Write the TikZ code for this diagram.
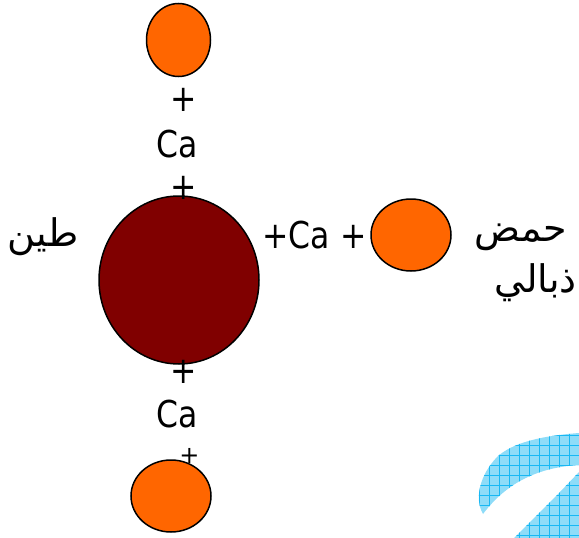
\documentclass[tikz,border=0pt]{standalone}
\usepackage{fontspec}
\setmainfont{DejaVu Sans}
\newfontfamily\arabicfont[Script=Arabic]{DejaVu Sans}
\TeXXeTstate=1
\definecolor{maroonball}{HTML}{800000}
\definecolor{orangeball}{HTML}{FF6600}
\definecolor{hatchfill}{HTML}{8EDCF8}
\definecolor{hatchline}{HTML}{18B8F4}
\tikzset{
  ball/.style={draw=black,line width=1.5pt,fill=orangeball,ellipse,inner sep=0pt},
  lab/.style={font=\fontsize{37}{42}\selectfont,inner sep=0pt,text=black,xscale=.85},
  arlab/.style={font=\fontsize{38}{44}\selectfont\arabicfont,inner sep=0pt,text=black},
}
\usetikzlibrary{shapes.geometric}
\begin{document}
\begin{tikzpicture}[x=1pt,y=-1pt]
\useasboundingbox (0,0) rectangle (579,538);
% blue swoosh
\begin{scope}
\clip (483,514) .. controls (474,498) and (480,475) .. (497,457) .. controls (512,443) and (540,436) .. (579,433) -- (579,465) .. controls (545,467) and (510,478) .. (483,514) -- cycle
 (514,538) -- (560,492) -- (579,472) -- (579,538) -- cycle;
\fill[hatchfill] (470,425) rectangle (579,538);
\foreach \x in {469,479,...,579} \draw[hatchline,line width=1pt] (\x,425) -- (\x,538);
\foreach \y in {425,435,...,535} \draw[hatchline,line width=1pt] (470,\y) -- (579,\y);
\end{scope}
% balls
\node[ball,minimum width=64pt,minimum height=73pt] (top) at (178.5,40) {};
\node[ball,minimum width=80pt,minimum height=72pt] (right) at (411,235) {};
\node[ball,minimum width=80pt,minimum height=72pt] (bottom) at (171,496) {};
\node[ball,fill=maroonball,minimum width=160pt,minimum height=168pt] (clay) at (179,280) {};
% labels
\node[lab] (p1) at (184,100) {+};
\node[lab] (ca1) at (177,144) {Ca};
\node[lab] (p2) at (184,188) {+};
\node[lab] (ca2) at (314.5,235) {+Ca +};
\node[lab] (p3) at (184,372) {+};
\node[lab] (ca3) at (177,414) {Ca};
\node[font=\fontsize{24}{26}\selectfont,inner sep=0pt] (p4) at (189.5,456) {+};
\node[arlab] (tin) at (43,237) {\beginR طين\endR};
\node[arlab] (hamd) at (521,237) {\beginR حمض\endR};
\node[arlab,anchor=east] (dh) at (577,283) {\beginR ذبالي\endR};
\end{tikzpicture}
\end{document}
